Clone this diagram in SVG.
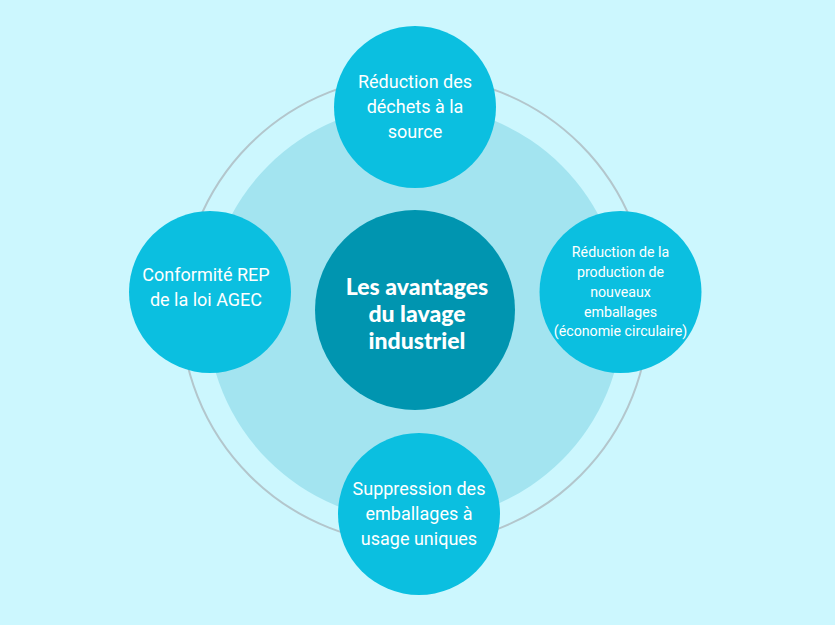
<svg xmlns="http://www.w3.org/2000/svg" width="835" height="625" viewBox="0 0 835 625">
<style>
.sat{fill:#0bbfe0}
.t{font-family:Roboto,"Liberation Sans",sans-serif;font-size:18px;fill:#ffffff;text-anchor:middle}
.ts{font-family:Roboto,"Liberation Sans",sans-serif;font-size:14.2px;fill:#ffffff;text-anchor:middle}
.tc{font-family:Lato,"Liberation Sans",sans-serif;font-weight:900;font-size:23px;fill:#ffffff;text-anchor:middle}
</style>
<rect width="835" height="625" fill="#ccf7fe"/>
<g id="backdrop">
<circle cx="415" cy="313" r="208" fill="#a3e4f0"/>
</g>
<g id="connectors">
<circle cx="415" cy="310" r="234" fill="none" stroke="#b3c6cc" stroke-width="2"/>
</g>
<g id="center">
<circle cx="415" cy="310" r="100" fill="#0095b0"/>
<text class="tc"><tspan x="417" y="295">Les avantages</tspan><tspan x="417" y="322">du lavage</tspan><tspan x="417" y="349">industriel</tspan></text>
</g>
<g id="top">
<circle class="sat" cx="415" cy="107" r="81"/>
<text class="t"><tspan x="415" y="88">Réduction des</tspan><tspan x="415" y="113">déchets à la</tspan><tspan x="415" y="138">source</tspan></text>
</g>
<g id="left">
<circle class="sat" cx="210" cy="292" r="81"/>
<text class="t"><tspan x="206" y="281">Conformité REP</tspan><tspan x="206" y="306">de la loi AGEC</tspan></text>
</g>
<g id="right">
<circle class="sat" cx="620.5" cy="292" r="81"/>
<text class="ts"><tspan x="620.5" y="257">Réduction de la</tspan><tspan x="620.5" y="277">production de</tspan><tspan x="620.5" y="297">nouveaux</tspan><tspan x="620.5" y="317">emballages</tspan><tspan x="620.5" y="336">(économie circulaire)</tspan></text>
</g>
<g id="bottom">
<circle class="sat" cx="419" cy="514" r="81"/>
<text class="t"><tspan x="419" y="495">Suppression des</tspan><tspan x="419" y="520">emballages à</tspan><tspan x="419" y="545">usage uniques</tspan></text>
</g>
</svg>
